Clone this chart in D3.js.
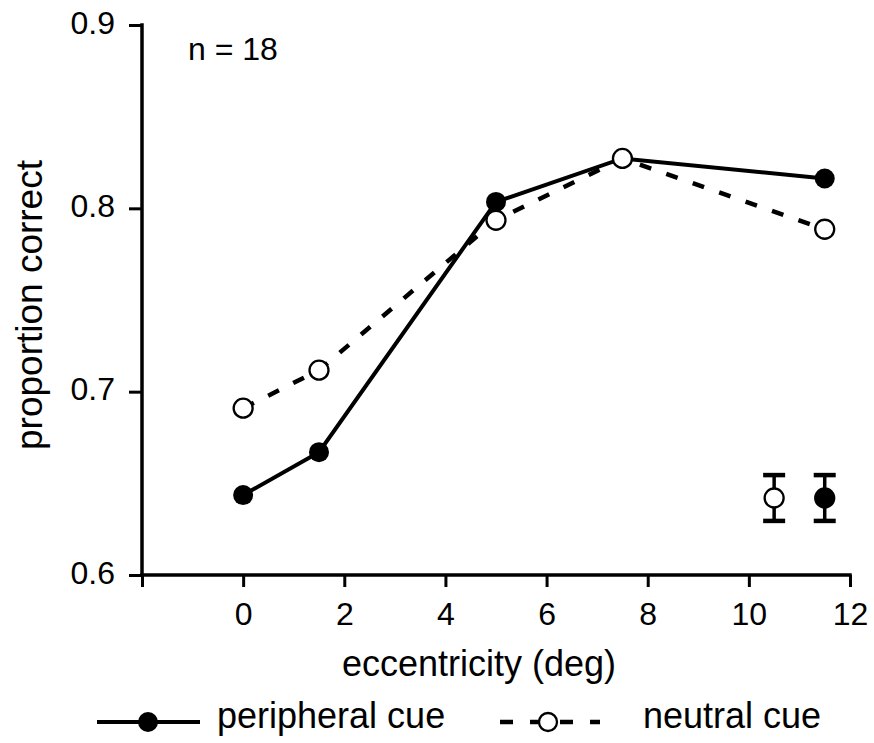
<!DOCTYPE html>
<html><head><meta charset="utf-8">
<script src="https://cdn.jsdelivr.net/npm/d3@7"></script>
<style>body{margin:0;background:#fff}svg{display:block}text{font-family:"Liberation Sans",Arial,sans-serif;fill:#000}</style>
</head><body>
<script>
const eccentricity = [0, 1.5, 5, 7.5, 11.5];
const peripheral = [0.6436, 0.667, 0.8035, 0.8272, 0.8163];
const neutral = [0.691, 0.7117, 0.7935, 0.8272, 0.7886];
const errX = [10.5, 11.5];
const errMean = [0.642, 0.642];
const errHalf = [0.0125, 0.0125];
const xTicks = [-2, 0, 2, 4, 6, 8, 10, 12];
const yTicks = [0.6, 0.7, 0.8, 0.9];

const W = 874, H = 743;
const svg = d3.select("body").append("svg").attr("width", W).attr("height", H);
const x = d3.scaleLinear().domain([-2, 12]).range([142, 850]);
const y = d3.scaleLinear().domain([0.6, 0.9]).range([575, 25]);

// axes
const xAxis = svg.append("g").attr("transform", `translate(0,${y(0.6)})`)
  .call(d3.axisBottom(x).tickValues(xTicks).tickSize(12).tickPadding(15)
    .tickFormat(d => d < 0 ? "" : d3.format("d")(d)));
xAxis.select(".domain").attr("d", `M${x(-2)},0H${x(12)}`);
const yAxis = svg.append("g").attr("transform", `translate(${x(-2)},0)`)
  .call(d3.axisLeft(y).tickValues(yTicks).tickSize(13).tickPadding(14).tickFormat(d3.format(".1f")));
yAxis.select(".domain").attr("d", `M0,${y(0.9)}V${y(0.6)}`);
svg.selectAll(".domain").attr("stroke", "#000").attr("stroke-width", 3.5).attr("stroke-linecap", "square");
svg.selectAll(".tick line").attr("stroke", "#000").attr("stroke-width", 3);
svg.selectAll(".tick text").style("font-size", "32px").style("font-family", '"Liberation Sans",Arial,sans-serif').attr("fill", "#000");
yAxis.selectAll(".tick text").attr("dy", "0.25em");

// titles
svg.append("text").attr("x", 479).attr("y", 676).attr("text-anchor", "middle")
  .style("font-size", "36px").text("eccentricity (deg)");
svg.append("text").attr("transform", `translate(42,305) rotate(-90)`).attr("text-anchor", "middle")
  .style("font-size", "37px").text("proportion correct");
svg.append("text").attr("x", 188).attr("y", 60).style("font-size", "32px").text("n = 18");

const line = d3.line().x((d, i) => x(eccentricity[i])).y(d => y(d));
svg.append("path").datum(neutral).attr("d", line).attr("fill", "none").attr("stroke", "#000")
  .attr("stroke-width", 4.5).attr("stroke-dasharray", "12,16");
svg.append("path").datum(peripheral).attr("d", line).attr("fill", "none").attr("stroke", "#000")
  .attr("stroke-width", 4);

svg.selectAll(".pp").data(peripheral).enter().append("circle")
  .attr("cx", (d, i) => x(eccentricity[i])).attr("cy", d => y(d)).attr("r", 10).attr("fill", "#000");
svg.selectAll(".nn").data(neutral).enter().append("circle")
  .attr("cx", (d, i) => x(eccentricity[i])).attr("cy", d => y(d)).attr("r", 9.5)
  .attr("fill", "#fff").attr("stroke", "#000").attr("stroke-width", 2.3);

// error bars
errX.forEach((ex, i) => {
  const g = svg.append("g");
  const cx = x(ex), t = y(errMean[i] + errHalf[i]), b = y(errMean[i] - errHalf[i]);
  g.append("line").attr("x1", cx).attr("x2", cx).attr("y1", t).attr("y2", b).attr("stroke", "#000").attr("stroke-width", 3.5);
  [t, b].forEach(yy => g.append("line").attr("x1", cx - 11).attr("x2", cx + 11).attr("y1", yy).attr("y2", yy)
    .attr("stroke", "#000").attr("stroke-width", 4.5));
  g.append("circle").attr("cx", cx).attr("cy", y(errMean[i])).attr("r", 9.5)
    .attr("fill", i === 0 ? "#fff" : "#000").attr("stroke", "#000").attr("stroke-width", 2.3);
});

// legend
const ly = 722;
svg.append("line").attr("x1", 97).attr("x2", 200).attr("y1", ly).attr("y2", ly).attr("stroke", "#000").attr("stroke-width", 4);
svg.append("circle").attr("cx", 148).attr("cy", ly).attr("r", 10).attr("fill", "#000");
svg.append("text").attr("x", 217).attr("y", ly + 6).style("font-size", "36px").text("peripheral cue");
svg.append("line").attr("x1", 500).attr("x2", 600).attr("y1", ly).attr("y2", ly).attr("stroke", "#000").attr("stroke-width", 4.5)
  .attr("stroke-dasharray", "13,17");
svg.append("circle").attr("cx", 548).attr("cy", ly).attr("r", 9).attr("fill", "#fff").attr("stroke", "#000").attr("stroke-width", 2.3);
svg.append("text").attr("x", 643).attr("y", ly + 6).style("font-size", "36px").text("neutral cue");
</script>
</body></html>
